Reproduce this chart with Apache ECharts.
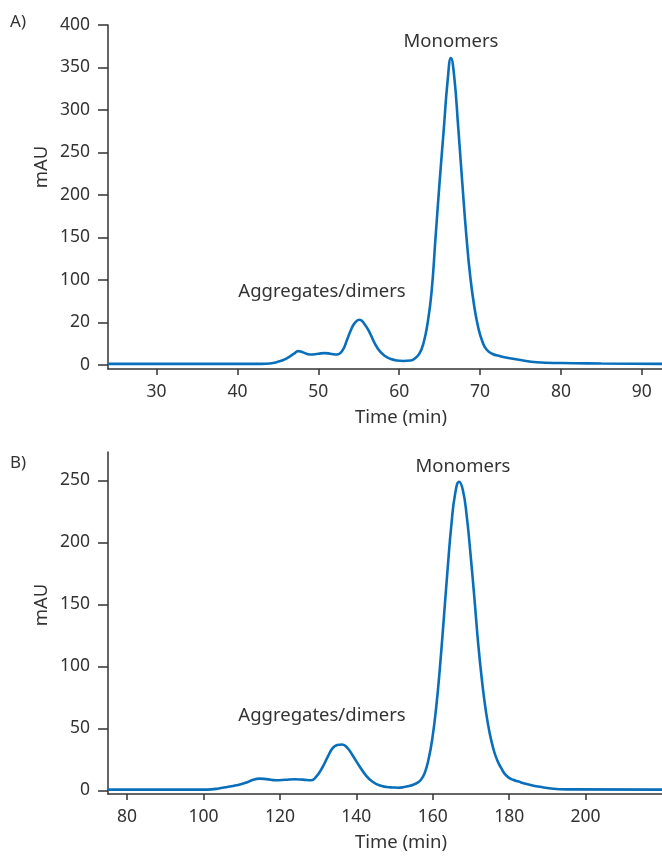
<!DOCTYPE html>
<html>
<head>
<meta charset="utf-8">
<script src="https://cdn.jsdelivr.net/npm/echarts@6/dist/echarts.min.js"></script>
<style>
  html, body { margin: 0; padding: 0; background: #fff; }
  #chart { width: 662px; height: 857px; }
</style>
</head>
<body>
<div id="chart"></div>
<script>
// panel A: time (min) and absorbance (mAU)
const timeA = [24, 30, 40, 43, 44, 45, 46, 47, 47.5, 48, 49, 50, 50.8, 51.5, 52.3, 53, 53.5, 54, 54.5, 55.1, 55.7, 56.4, 57, 57.6, 58.3, 58.9, 59.7, 60.5, 61.4, 62, 62.5, 63, 63.5, 64, 64.5, 65, 65.5, 66, 66.4, 66.8, 67.3, 67.8, 68.3, 68.8, 69.3, 69.8, 70.3, 70.8, 71.5, 72.5, 73.5, 75, 77, 80, 85, 92.5]
const mauA = [1, 1, 1, 1, 1.5, 3.5, 7, 13, 16, 15, 12, 13, 13.7, 13, 12, 17, 28, 40, 49, 53, 48, 37, 25, 16, 10, 7, 5, 4.5, 5, 8, 13, 25, 48, 85, 150, 215, 275, 335, 361, 340, 280, 215, 153, 103, 68, 43, 27, 18, 13, 10, 8, 5.5, 3, 2, 1.5, 1]
// panel B
const timeB = [75, 100, 102, 104, 106, 108.6, 111, 113, 114.7, 116.5, 119, 121.5, 123.8, 126, 128.2, 129.5, 131.2, 132.5, 133.8, 135, 136.3, 137.7, 139, 140.7, 142.5, 144, 146, 148, 149.5, 151, 152.5, 153.9, 154.9, 155.9, 156.9, 157.9, 158.9, 159.9, 160.9, 161.9, 162.9, 163.9, 164.9, 165.9, 166.9, 167.9, 168.9, 169.9, 170.9, 171.9, 172.9, 173.9, 174.9, 175.9, 176.9, 177.9, 178.9, 180, 181, 182.5, 184, 186, 188, 191, 195, 220]
const mauB = [0.5, 0.5, 0.7, 1.5, 2.5, 4, 6, 8.5, 9.4, 9, 8.1, 8.5, 8.9, 8.6, 8.1, 11, 19, 27, 34, 36.5, 37, 34, 28.3, 20, 12, 7.5, 4, 2.7, 2.3, 2.1, 2.6, 3.5, 4.5, 6, 8.5, 14, 25, 42, 67, 100, 139, 179, 215, 240, 249, 242, 221, 190, 155, 118, 88, 64, 46, 33, 24, 18, 13, 10, 8.5, 7, 5.5, 4, 2.8, 1.4, 0.7, 0.5]

const xTicksA = [30, 40, 50, 60, 70, 80, 90]
const yTicksA = [0, 50, 100, 150, 200, 250, 300, 350, 400]
const yLabelsA = ['0', '20', '100', '150', '200', '250', '300', '350', '400']
const xTicksB = [80, 100, 120, 140, 160, 180, 200]
const yTicksB = [0, 50, 100, 150, 200, 250]

const ink = '#333'
const blue = '#0a6fba'
const font = 'Noto Sans'

function pairs(xs, ys) {
  return xs.map((x, i) => [x, ys[i]])
}

function xAxisCfg(gridIndex, min, max, ticks) {
  return {
    type: 'value', gridIndex, min, max,
    name: 'Time (min)', nameLocation: 'middle', nameGap: 39,
    nameTextStyle: { color: ink, fontSize: 18.5, fontFamily: font, padding: [0, 0, 0, 32] },
    splitLine: { show: false },
    axisLine: { onZero: false, lineStyle: { color: ink, width: 1.5 } },
    axisTick: { customValues: ticks, length: 6, lineStyle: { color: ink, width: 1.5 } },
    axisLabel: { customValues: ticks, margin: 14, color: ink, fontSize: 17.5, fontFamily: font },
  }
}

function yAxisCfg(gridIndex, min, max, ticks, labels) {
  return {
    type: 'value', gridIndex, min, max,
    splitLine: { show: false },
    axisLine: { show: true, onZero: false, lineStyle: { color: ink, width: 1.5 } },
    axisTick: { show: true, customValues: ticks, length: 10, lineStyle: { color: ink, width: 1.5 } },
    axisLabel: {
      customValues: ticks, margin: 18, color: ink, fontSize: 17.5, fontFamily: font,
      formatter: (v) => labels ? labels[ticks.indexOf(v)] : String(v),
    },
  }
}

function txt(x, y, text, size, extra) {
  return Object.assign({
    type: 'text', x, y,
    style: { text, fill: ink, fontSize: size, fontFamily: font, textAlign: 'center', textVerticalAlign: 'middle' },
  }, extra || {})
}

const chart = echarts.init(document.getElementById('chart'))
const option = {
  backgroundColor: '#fff',
  animation: false,
  grid: [
    { left: 108, right: 0, top: 25, height: 344 },
    { left: 108, right: 0, top: 452, height: 342 },
  ],
  xAxis: [
    xAxisCfg(0, 24, 92.5, xTicksA),
    xAxisCfg(1, 75, 220, xTicksB),
  ],
  yAxis: [
    yAxisCfg(0, -5, 400, yTicksA, yLabelsA),
    yAxisCfg(1, -3, 273, yTicksB, null),
  ],
  series: [
    {
      type: 'line', xAxisIndex: 0, yAxisIndex: 0, data: pairs(timeA, mauA),
      smooth: 0.5, showSymbol: false, lineStyle: { color: blue, width: 2.6 },
    },
    {
      type: 'line', xAxisIndex: 1, yAxisIndex: 1, data: pairs(timeB, mauB),
      smooth: 0.5, showSymbol: false, lineStyle: { color: blue, width: 2.6 },
    },
  ],
  graphic: [
    txt(18, 22, 'A)', 17),
    txt(18, 463, 'B)', 17),
    txt(42, 167, 'mAU', 18.5, { rotation: Math.PI / 2 }),
    txt(42, 605, 'mAU', 18.5, { rotation: Math.PI / 2 }),
    txt(451, 42, 'Monomers', 18.5),
    txt(463, 467, 'Monomers', 18.5),
    txt(322, 292, 'Aggregates/dimers', 18.5),
    txt(322, 716, 'Aggregates/dimers', 18.5),
  ],
}
chart.setOption(option)
</script>
</body>
</html>
